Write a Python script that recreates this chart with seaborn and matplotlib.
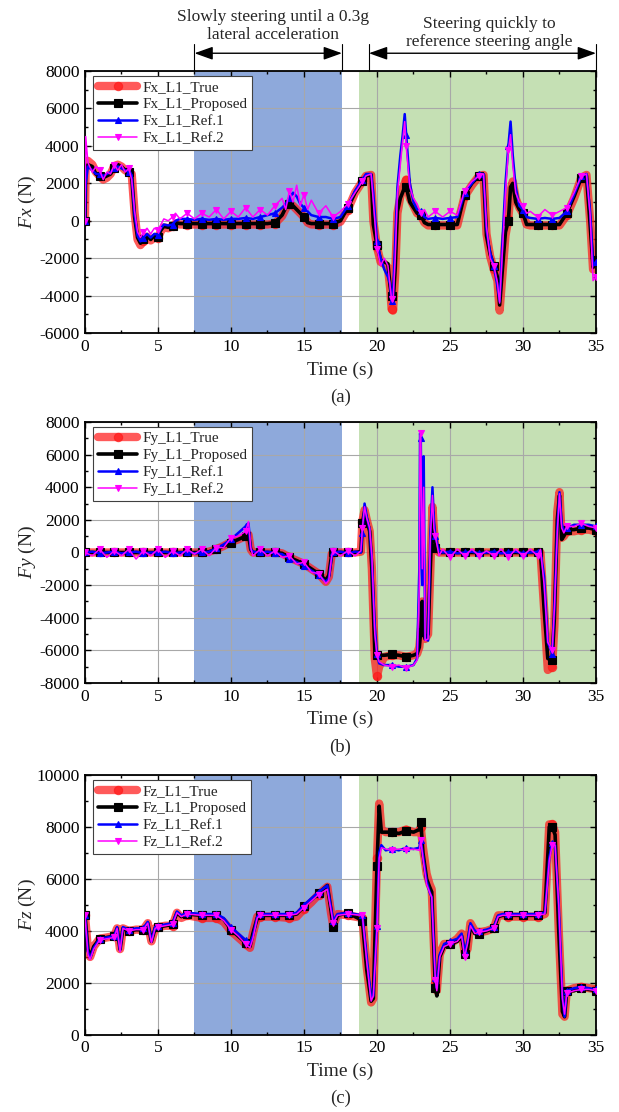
import matplotlib
matplotlib.use("Agg")
import matplotlib.pyplot as plt
import seaborn as sns
from matplotlib.ticker import MultipleLocator

sns.set_theme(style="ticks")
plt.rcParams["font.family"] = ["Liberation Serif", "DejaVu Serif"]
plt.rcParams["mathtext.fontset"] = "custom"
plt.rcParams["mathtext.rm"] = "Liberation Serif"
plt.rcParams["mathtext.it"] = "Liberation Serif:italic"
plt.rcParams["axes.unicode_minus"] = False

# ---- panel (a): longitudinal force Fx ----
t_x = [0.0, 0.05, 0.2, 0.5, 0.75, 1.0, 1.25, 1.5, 1.75, 2.0,
       2.25, 2.5, 2.75, 3.0, 3.2, 3.4, 3.6, 3.8, 4.0, 4.25,
       4.5, 4.75, 5.0, 5.2, 5.4, 5.7, 6.0, 6.2, 6.5, 7.0,
       7.5, 8.0, 8.5, 9.0, 9.5, 10.0, 10.5, 11.0, 11.5, 12.0,
       12.5, 13.0, 13.5, 13.75, 14.0, 14.25, 14.5, 14.75, 15.0, 15.25,
       15.5, 16.0, 16.5, 17.0, 17.5, 18.0, 18.5, 19.0, 19.25, 19.6,
       19.75, 20.0, 20.25, 20.5, 20.75, 20.9, 21.0, 21.1, 21.25, 21.4,
       21.6, 21.75, 21.9, 22.0, 22.25, 22.5, 22.75, 23.0, 23.25, 23.5,
       24.0, 24.5, 25.0, 25.5, 26.0, 26.5, 27.0, 27.3, 27.5, 27.75,
       28.0, 28.25, 28.4, 28.6, 28.8, 29.0, 29.15, 29.3, 29.5, 29.75,
       30.0, 30.25, 30.5, 31.0, 31.5, 32.0, 32.5, 33.0, 33.5, 34.0,
       34.35, 34.6, 34.8, 35.0]
fx_true = [0, 3200, 3200, 3000, 2600, 2400, 2200, 2300, 2500, 2900,
           3000, 2900, 2700, 2600, 2500, 400, -1000, -1300, -1100, -850,
           -1050, -900, -900, -550, -350, -400, -300, -150, -200, -200,
           -200, -200, -200, -200, -200, -200, -200, -200, -200, -200,
           -200, -150, 250, 650, 900, 800, 600, 400, 200, -100,
           -200, -200, -200, -200, -50, 600, 1500, 2100, 2400, 2450,
           0, -1400, -2200, -2300, -2500, -3600, -4700, -4800, -2800, 400,
           1300, 1700, 2000, 2200, 1200, 800, 400, 300, -100, -250,
           -250, -250, -250, -250, 1300, 1900, 2400, 2450, -700, -1900,
           -2600, -3200, -4800, -2800, -800, 100, 1600, 2100, 1200, 700,
           400, -200, -250, -250, -250, -250, -250, 300, 1200, 2300,
           2450, 0, -2600, -2200]
fx_prop = [0, 2800, 3000, 2900, 2500, 2400, 2300, 2400, 2500, 2800,
           3000, 2900, 2700, 2600, 2400, 200, -900, -1200, -1000, -800,
           -1000, -800, -850, -500, -300, -350, -300, -100, -150, -150,
           -150, -150, -150, -150, -150, -150, -150, -150, -150, -150,
           -150, -100, 300, 700, 900, 800, 600, 400, 200, -100,
           -150, -150, -150, -150, 0, 700, 1500, 2100, 2400, 2450,
           -200, -1300, -2100, -2200, -2300, -3500, -4000, -4400, -2500, 500,
           1200, 1500, 1800, 1800, 1000, 700, 400, 300, -100, -200,
           -200, -200, -200, -200, 1400, 2000, 2400, 2450, -800, -1800,
           -2400, -3000, -4500, -2500, -600, 0, 1800, 2000, 1000, 600,
           400, -200, -200, -200, -200, -200, -200, 400, 1300, 2300,
           2400, -200, -2500, -2100]
fx_ref1 = [0, 2000, 2900, 2700, 2500, 2500, 2400, 2500, 2600, 2800,
           2900, 2800, 2700, 2600, 2400, 300, -800, -1100, -900, -700,
           -900, -700, -750, -400, -200, -250, -200, 0, 100, 100,
           50, 100, 50, 100, 50, 100, 100, 150, 100, 200,
           300, 400, 700, 900, 1200, 1500, 1300, 900, 700, 500,
           300, 200, 200, 100, 200, 800, 1600, 2200, 2500, 2500,
           1500, -1100, -2000, -2600, -3000, -3400, -4300, -4000, -1000, 1800,
           3500, 4500, 5700, 4600, 2000, 1000, 600, 500, 200, 100,
           150, 100, 150, 200, 1500, 2000, 2500, 2500, -500, -1700,
           -2400, -3500, -4300, -1000, 2000, 4000, 5300, 3500, 1800, 800,
           600, 200, 150, 100, 150, 100, 150, 500, 1400, 2400,
           2500, 500, -2400, -2200]
fx_ref2 = [0, 4500, 3100, 2600, 2900, 2700, 2200, 2600, 2500, 3000,
           2700, 3000, 2600, 2800, 2200, 500, -600, -900, -600, -400,
           -700, -400, -500, -200, 100, 0, 200, 400, 100, 400,
           100, 400, 200, 600, 100, 500, 200, 700, 200, 600,
           300, 800, 1200, 600, 1600, 1000, 1900, 800, 1400, 600,
           1100, 400, 800, 200, 500, 900, 1500, 2100, 2400, 2500,
           1000, -1500, -2400, -2000, -2400, -3500, -4200, -4300, -2000, 1500,
           3000, 4200, 5300, 4000, 1800, 1200, 900, 400, 600, 200,
           500, 200, 500, 300, 1600, 2100, 2400, 2500, -300, -2000,
           -2400, -3300, -4400, -1500, 1500, 3800, 4600, 3000, 1500, 1000,
           800, 400, 500, 200, 600, 300, 500, 700, 1500, 2400,
           2500, 300, -3200, -3000]

# ---- panel (b): lateral force Fy ----
t_y = [0.0, 0.5, 1.0, 1.5, 2.0, 2.5, 3.0, 3.5, 4.0, 4.5,
       5.0, 5.5, 6.0, 6.5, 7.0, 7.5, 8.0, 8.5, 9.0, 9.5,
       10.0, 10.5, 11.0, 11.2, 11.35, 11.5, 12.0, 12.5, 13.0, 13.5,
       14.0, 14.5, 15.0, 15.5, 16.0, 16.5, 16.7, 16.9, 17.0, 17.5,
       18.0, 18.5, 18.9, 19.0, 19.15, 19.3, 19.5, 19.65, 19.85, 20.0,
       20.15, 20.5, 21.0, 21.5, 22.0, 22.5, 22.75, 22.9, 22.95, 23.0,
       23.1, 23.2, 23.3, 23.5, 23.65, 23.8, 23.9, 24.0, 24.25, 24.5,
       25.0, 25.5, 26.0, 26.5, 27.0, 27.5, 28.0, 28.5, 29.0, 29.5,
       30.0, 30.5, 31.0, 31.2, 31.45, 31.7, 32.0, 32.15, 32.35, 32.5,
       32.65, 32.8, 33.0, 33.5, 34.0, 34.5, 35.0]
fy_true = [0, 0, 0, 0, 0, 0, 0, 0, 0, 0,
           0, 0, 0, 0, 0, 0, 0, 50, 200, 400,
           650, 800, 1000, 1100, 200, 0, 0, 0, 0, -50,
           -300, -500, -700, -1000, -1300, -1800, -1500, -100, 0, 0,
           0, 0, 50, 1900, 2600, 2000, 1300, -1000, -6500, -7600,
           -7000, -6400, -6300, -6300, -6400, -6300, -6200, -5800, -5300, -4900,
           -3000, -5000, -5300, -5000, -1200, 2800, 1400, 300, 0, 0,
           0, 0, 0, 0, 0, 0, 0, 0, 0, 0,
           0, 0, 0, 0, -3500, -7200, -7000, -4500, 2500, 3700,
           900, 1000, 1300, 1300, 1400, 1400, 1300]
fy_prop = [0, 0, 0, 0, 0, 0, 0, 0, 0, 0,
           0, 0, 0, 0, 0, 0, 0, 50, 200, 400,
           600, 800, 1000, 1100, 200, 0, 0, 0, 0, -50,
           -300, -500, -700, -1000, -1300, -1700, -1400, -100, 0, 0,
           0, 0, 50, 1800, 2500, 2000, 1300, -1000, -6000, -6300,
           -6300, -6300, -6250, -6300, -6400, -6300, -6200, -5800, -5300, -4900,
           -3000, -5000, -5300, -5000, -1000, 2500, 1200, 300, 0, 0,
           0, 0, 0, 0, 0, 0, 0, 0, 0, 0,
           0, 0, 0, 0, -3500, -6500, -6600, -4000, 2000, 3500,
           800, 1000, 1400, 1400, 1500, 1500, 1400]
fy_ref1 = [0, 50, -50, 0, 50, -50, 0, 50, -50, 0,
           0, 50, -50, 0, 50, -50, 0, 50, 250, 500,
           800, 1200, 1600, 1800, 200, 50, 0, 50, -50, -100,
           -400, -600, -800, -1100, -1400, -1800, -1600, -300, 0, 50,
           -50, 50, 0, 1200, 3000, 2200, 1400, -500, -4500, -6200,
           -6800, -6900, -6900, -7000, -7000, -6900, -6500, -1000, 7300, 7000,
           -2000, 5900, -5300, -5400, 1000, 4000, 2000, 1000, 100, 0,
           50, -50, 0, 50, -50, 0, 50, -50, 0, 50,
           -50, 0, 50, 100, -1500, -5500, -6200, -3500, 1500, 3700,
           1800, 1300, 1500, 1700, 1700, 1700, 1600]
fy_ref2 = [0, -200, 200, -300, 100, -200, 200, -400, 100, -200,
           200, -300, 100, -200, 200, -100, 200, -200, 300, 300,
           900, 1000, 1300, 1900, 300, -200, 200, -200, 100, -300,
           -200, -700, -600, -1200, -1300, -1900, -1700, -200, 100, -200,
           100, -200, 100, 1500, 2800, 2100, 1500, -200, -5000, -6300,
           -6700, -6900, -7000, -6900, -7100, -6900, -6600, -2000, 7200, 7300,
           -1000, 4000, -5400, -5300, 800, 3500, 1500, 1000, -200, 200,
           -300, 200, -200, 200, -200, 100, -200, 200, -300, 200,
           -200, 200, -200, 200, -2000, -5500, -6000, -3500, 1200, 3600,
           1500, 1200, 1600, 1600, 1800, 1600, 1500]

# ---- panel (c): vertical force Fz ----
t_z = [0.0, 0.2, 0.35, 0.6, 1.0, 1.5, 2.0, 2.2, 2.4, 2.6,
       3.0, 3.5, 4.0, 4.3, 4.55, 4.8, 5.0, 5.5, 6.0, 6.3,
       6.6, 7.0, 8.0, 9.0, 9.5, 10.0, 10.5, 11.0, 11.3, 11.5,
       11.8, 12.0, 13.0, 14.0, 14.5, 15.0, 15.5, 16.0, 16.6, 16.85,
       17.0, 17.3, 18.0, 19.0, 19.3, 19.6, 19.75, 20.0, 20.15, 20.3,
       20.6, 21.0, 21.5, 22.0, 22.5, 22.9, 23.0, 23.15, 23.4, 23.6,
       23.75, 24.0, 24.1, 24.3, 24.6, 25.0, 25.5, 25.8, 26.0, 26.2,
       26.4, 26.7, 27.0, 27.5, 28.0, 28.3, 28.6, 29.0, 30.0, 31.0,
       31.5, 31.8, 32.0, 32.2, 32.45, 32.7, 32.85, 33.0, 33.5, 34.0,
       34.5, 35.0]
fz_true = [4600, 3300, 3000, 3400, 3700, 3750, 3800, 4100, 3300, 4100,
           4000, 4050, 4050, 4300, 3600, 4100, 4150, 4200, 4200, 4700,
           4500, 4600, 4500, 4500, 4350, 4000, 3750, 3500, 3350, 3900,
           4550, 4550, 4550, 4500, 4550, 4850, 5100, 5400, 5700, 4700,
           4200, 4650, 4600, 4500, 2600, 1250, 1400, 6800, 8900, 7900,
           7800, 7800, 7800, 7900, 7800, 7800, 8000, 7200, 6200, 5800,
           5600, 2000, 1700, 3100, 3500, 3500, 3700, 3900, 3200, 3300,
           4300, 4000, 3950, 4000, 4100, 4600, 4600, 4550, 4550, 4550,
           4650, 8100, 8100, 7800, 4000, 800, 700, 1700, 1800, 1850,
           1800, 1750]
fz_prop = [4600, 3300, 3000, 3400, 3700, 3750, 3800, 4100, 3300, 4100,
           4000, 4050, 4050, 4300, 3600, 4100, 4150, 4200, 4250, 4700,
           4550, 4650, 4600, 4600, 4450, 4050, 3800, 3550, 3400, 3900,
           4500, 4600, 4600, 4600, 4650, 4950, 5200, 5450, 5750, 4800,
           4150, 4600, 4700, 4400, 2500, 1300, 1400, 6500, 8800, 7800,
           7800, 7800, 7750, 7850, 7800, 7900, 8200, 7000, 6000, 5700,
           5500, 1800, 1500, 3000, 3400, 3500, 3600, 3800, 3100, 3300,
           4200, 3900, 3900, 4000, 4100, 4550, 4600, 4600, 4600, 4600,
           4700, 8000, 8000, 7700, 4000, 900, 700, 1700, 1700, 1800,
           1750, 1700]
fz_ref1 = [4600, 3200, 2950, 3350, 3700, 3750, 3800, 4150, 3250, 4150,
           4050, 4100, 4100, 4350, 3600, 4150, 4200, 4250, 4300, 4750,
           4600, 4700, 4650, 4650, 4500, 4150, 3900, 3650, 3500, 3800,
           4550, 4650, 4650, 4650, 4700, 5000, 5250, 5500, 5750, 4900,
           4400, 4650, 4700, 4600, 3000, 1400, 1500, 4200, 7000, 7300,
           7100, 7150, 7100, 7200, 7150, 7200, 7500, 6900, 5900, 5500,
           5300, 2200, 1800, 3100, 3500, 3600, 3700, 3900, 3200, 3600,
           4300, 4000, 4000, 4050, 4150, 4600, 4650, 4650, 4650, 4650,
           4700, 6800, 7400, 7300, 5000, 1500, 700, 1700, 1800, 1850,
           1800, 1750]
fz_ref2 = [4600, 3100, 2900, 3300, 3650, 3700, 3750, 4100, 3200, 4100,
           4000, 4050, 4050, 4300, 3550, 4100, 4150, 4200, 4250, 4700,
           4550, 4650, 4600, 4600, 4400, 4050, 3800, 3500, 3350, 3700,
           4500, 4600, 4600, 4600, 4650, 4900, 5150, 5400, 5600, 4800,
           4300, 4600, 4650, 4600, 2800, 1300, 1500, 4100, 6800, 7200,
           7150, 7100, 7150, 7100, 7150, 7100, 7500, 6800, 5800, 5500,
           5300, 2100, 1700, 3000, 3400, 3500, 3600, 3800, 3000, 3500,
           4200, 3900, 3950, 4000, 4100, 4550, 4600, 4600, 4600, 4600,
           4650, 6700, 7300, 7300, 5000, 1400, 800, 1600, 1700, 1750,
           1750, 1700]

series_names = ["True", "Proposed", "Ref.1", "Ref.2"]
styles = [
    dict(color="#ff1a1a", linewidth=6, alpha=0.72, marker="o", markersize=6,
         markeredgecolor="#ff1a1a", zorder=2),
    dict(color="black", linewidth=2.6, marker="s", markersize=5.5,
         markeredgecolor="black", zorder=3),
    dict(color="#0000ff", linewidth=1.8, marker="^", markersize=4.5,
         markeredgecolor="#0000ff", zorder=4),
    dict(color="#ff00ff", linewidth=1.1, marker="v", markersize=5,
         markeredgecolor="#ff00ff", zorder=5),
]


def draw_panel(ax, t, curves, name, ylim, tag):
    ax.axvspan(7.5, 17.6, color="#8EA9DB", lw=0, zorder=0)
    ax.axvspan(18.75, 35, color="#C5E0B4", lw=0, zorder=0)
    # markers once per second
    marks = [i for i, v in enumerate(t) if float(v).is_integer()]
    for vals, sname, st in zip(curves, series_names, styles):
        sns.lineplot(x=t, y=vals, ax=ax, label=f"{name}_L1_{sname}",
                     markevery=marks, markeredgewidth=0.8, **st)

    ax.set_xlim(0, 35)
    ax.set_ylim(*ylim)
    ax.xaxis.set_major_locator(MultipleLocator(5))
    ax.xaxis.set_minor_locator(MultipleLocator(2.5))
    ax.yaxis.set_major_locator(MultipleLocator(2000))
    ax.yaxis.set_minor_locator(MultipleLocator(1000))
    ax.tick_params(which="both", direction="in", top=True, right=True,
                   labelsize=12.5, width=1, colors="black")
    ax.tick_params(which="major", length=4.5, pad=4)
    ax.tick_params(which="minor", length=2.5)
    ax.grid(True, which="major", color="#a8a8a8", lw=0.8)
    for s in ax.spines.values():
        s.set_linewidth(1.3)
        s.set_color("black")

    ax.set_xlabel("Time (s)", fontsize=14, va="center")
    ax.xaxis.set_label_coords(0.5, -0.141)
    ax.set_ylabel(f"$\\mathit{{{name}}}$ (N)", fontsize=14, va="center")
    ax.yaxis.set_label_coords(-0.112, 0.5)
    ax.text(0.5, -0.245, tag, transform=ax.transAxes, ha="center",
            va="center", fontsize=13.5)

    leg = ax.legend(loc="upper left", bbox_to_anchor=(0.016, 0.982),
                    borderaxespad=0, frameon=True, fancybox=False,
                    edgecolor="#404040", framealpha=1, fontsize=11,
                    handlelength=2.6, handletextpad=0.3, labelspacing=0.22,
                    borderpad=0.3)
    leg.get_frame().set_linewidth(0.8)


fig = plt.figure(figsize=(6.19, 11.12), dpi=100)
ax_a = fig.add_axes([0.1373, 0.7005, 0.8255, 0.2356])
ax_b = fig.add_axes([0.1373, 0.3858, 0.8255, 0.2347])
ax_c = fig.add_axes([0.1373, 0.0693, 0.8255, 0.2338])

draw_panel(ax_a, t_x, [fx_true, fx_prop, fx_ref1, fx_ref2], "Fx", (-6000, 8000), "(a)")
draw_panel(ax_b, t_y, [fy_true, fy_prop, fy_ref1, fy_ref2], "Fy", (-8000, 8000), "(b)")
draw_panel(ax_c, t_z, [fz_true, fz_prop, fz_ref1, fz_ref2], "Fz", (0, 10000), "(c)")

# manoeuvre annotations above panel (a)
for x0, x1 in [(7.5, 17.6), (19.45, 35)]:
    ax_a.annotate("", xy=(x0, 1.068), xytext=(x1, 1.068),
                  xycoords=("data", "axes fraction"),
                  arrowprops=dict(arrowstyle="<|-|>,head_length=0.7,head_width=0.25",
                                  color="black", lw=1, shrinkA=0, shrinkB=0,
                                  mutation_scale=16),
                  annotation_clip=False)
    for x in (x0, x1):
        ax_a.plot([x, x], [1.0, 1.103], transform=ax_a.get_xaxis_transform(),
                  color="black", lw=0.8, clip_on=False)
ax_a.text(12.88, 1.171, "Slowly steering until a 0.3g\nlateral acceleration",
          transform=ax_a.get_xaxis_transform(), ha="center", va="center",
          fontsize=12.5, linespacing=1.15)
ax_a.text(27.67, 1.146, "Steering quickly to\nreference steering angle",
          transform=ax_a.get_xaxis_transform(), ha="center", va="center",
          fontsize=12.5, linespacing=1.15)

fig.savefig("out.png", dpi=100)
